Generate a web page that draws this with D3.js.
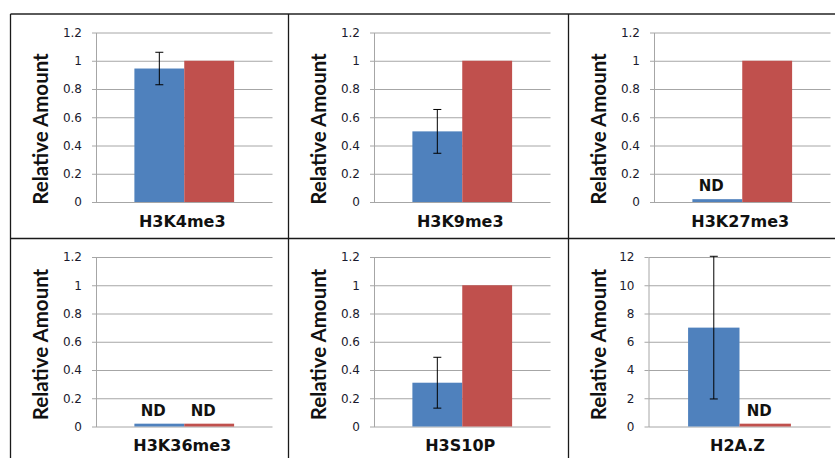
<!DOCTYPE html>
<html>
<head>
<meta charset="utf-8">
<script src="https://cdn.jsdelivr.net/npm/d3@7/dist/d3.min.js"></script>
<style>
  body { margin: 0; background: #fff; }
  svg { display: block; }
</style>
</head>
<body>
<div id="chart"></div>
<script>
// data
const markers = ['H3K4me3', 'H3K9me3', 'H3K27me3', 'H3K36me3', 'H3S10P', 'H2A.Z'];
const blueValues = [0.945, 0.50, 0.02, 0.02, 0.31, 7.0];
const blueErrors = [0.115, 0.155, 0, 0, 0.18, 5.05];
const redValues = [1, 1, 1, 0.02, 1, 0.2];
const blueND = [false, false, true, true, false, false];
const redND = [false, false, false, true, false, true];
const yMaxes = [1.2, 1.2, 1.2, 1.2, 1.2, 12];
const tickSteps = [0.2, 0.2, 0.2, 0.2, 0.2, 2];
const seriesKeys = ['blue', 'red'];
const seriesColors = { blue: '#4f81bd', red: '#c0504d' };

const width = 835, height = 458;
const svg = d3.select('#chart').append('svg')
    .attr('width', width)
    .attr('height', height);

// panel grid
const colX = [10.5, 288.5, 568.5];
const rowY = [14, 238.5];
const plotTop = 18.5, plotBottom = 188, plotRight = 262;
const labelCenterY = [115, 106];

const fontTick = '"DejaVu Sans", sans-serif';
const fontBold = '"DejaVu Sans", sans-serif';

markers.forEach((name, i) => drawPanel(name, i));

// borders between panels
svg.append('line')
    .attr('x1', colX[0]).attr('x2', width)
    .attr('y1', rowY[0]).attr('y2', rowY[0])
    .attr('stroke', '#5a5a5a').attr('stroke-width', 2);
svg.append('line')
    .attr('x1', colX[0]).attr('x2', width)
    .attr('y1', rowY[1]).attr('y2', rowY[1])
    .attr('stroke', '#1a1a1a').attr('stroke-width', 1.3);
colX.forEach(x => {
    svg.append('line')
        .attr('x1', x).attr('x2', x)
        .attr('y1', rowY[0]).attr('y2', height)
        .attr('stroke', '#1a1a1a').attr('stroke-width', 1.3);
});

function drawPanel(name, i) {
    const col = i % 3, row = Math.floor(i / 3);
    const g = svg.append('g')
        .attr('transform', `translate(${colX[col]},${rowY[row]})`);

    const left = yMaxes[i] >= 10 ? 80 : 85.5;
    const plotW = plotRight - left;
    const plotH = plotBottom - plotTop;
    const plot = g.append('g').attr('transform', `translate(${left},${plotTop})`);

    const y = d3.scaleLinear().domain([0, yMaxes[i]]).range([plotH, 0]);
    const ticks = d3.range(0, yMaxes[i] + tickSteps[i] / 2, tickSteps[i]);
    const fmt = d => String(+d.toFixed(1));

    const x0 = d3.scaleBand().domain([name]).range([0, plotW])
        .paddingInner(0).paddingOuter(0.385);
    const x1 = d3.scaleBand().domain(seriesKeys).range([0, x0.bandwidth()]);

    // gridlines
    const grid = plot.append('g')
        .call(d3.axisLeft(y).tickValues(ticks).tickSize(-plotW).tickFormat(''));
    grid.select('.domain').remove();
    grid.selectAll('line').attr('stroke', '#a6a6a6');

    // y axis
    const axis = plot.append('g')
        .call(d3.axisLeft(y).tickValues(ticks).tickSize(4).tickSizeOuter(0)
            .tickPadding(10).tickFormat(fmt));
    axis.select('.domain').attr('stroke', '#a6a6a6');
    axis.selectAll('line').attr('stroke', '#a6a6a6');
    axis.selectAll('text')
        .attr('font-family', fontTick)
        .attr('font-size', '12px')
        .attr('fill', '#1a1a2e');

    // bars
    const rows = [
        { key: 'blue', value: blueValues[i], err: blueErrors[i], nd: blueND[i] },
        { key: 'red', value: redValues[i], err: 0, nd: redND[i] }
    ];
    const bx = d => x0(name) + x1(d.key);

    plot.selectAll('rect.bar')
        .data(rows)
        .join('rect')
        .attr('class', 'bar')
        .attr('x', bx)
        .attr('width', x1.bandwidth())
        .attr('y', d => y(d.value))
        .attr('height', d => y(0) - y(d.value))
        .attr('fill', d => seriesColors[d.key]);

    // error bars
    rows.filter(d => d.err > 0).forEach(d => {
        const cx = bx(d) + x1.bandwidth() / 2;
        const yHi = y(d.value + d.err), yLo = y(d.value - d.err);
        plot.append('line')
            .attr('x1', cx).attr('x2', cx)
            .attr('y1', yHi).attr('y2', yLo)
            .attr('stroke', '#000').attr('stroke-width', 1);
        [yHi, yLo].forEach(yy => {
            plot.append('line')
                .attr('x1', cx - 4).attr('x2', cx + 4)
                .attr('y1', yy).attr('y2', yy)
                .attr('stroke', '#000').attr('stroke-width', 1);
        });
    });

    // ND labels
    rows.filter(d => d.nd).forEach(d => {
        plot.append('text')
            .attr('x', bx(d) + x1.bandwidth() / 2 - 6)
            .attr('y', y(d.value) - 8)
            .attr('text-anchor', 'middle')
            .attr('font-family', fontBold)
            .attr('font-weight', 'bold')
            .attr('font-size', '15px')
            .attr('fill', '#111')
            .text('ND');
    });

    // category title
    g.append('text')
        .attr('x', left + plotW / 2 - 2)
        .attr('y', 212.5)
        .attr('text-anchor', 'middle')
        .attr('font-family', fontBold)
        .attr('font-weight', 'bold')
        .attr('font-size', '16px')
        .attr('fill', '#111')
        .text(name);

    // y axis label
    g.append('text')
        .attr('transform', `translate(37,${labelCenterY[row]}) rotate(-90)`)
        .attr('text-anchor', 'middle')
        .attr('font-family', 'Lato, sans-serif')
        .attr('font-weight', 'bold')
        .attr('font-size', '20.5px')
        .attr('fill', '#111')
        .text('Relative Amount');
}
</script>
</body>
</html>
